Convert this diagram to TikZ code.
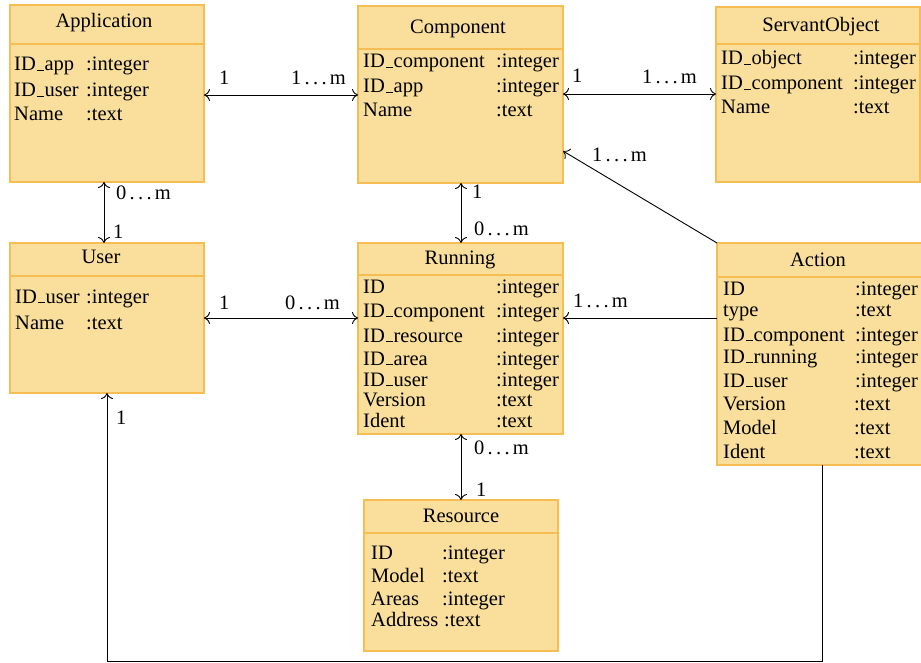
\documentclass[tikz,border=0pt]{standalone}
\usepackage{fontspec}
\setmainfont{Liberation Serif}
\usetikzlibrary{arrows.meta}
\definecolor{boxfill}{RGB}{249,223,155}
\definecolor{boxline}{RGB}{246,190,82}
% low underscore resting on the baseline
\newcommand\usc{\leavevmode\kern.04em\vbox{\hrule width.36em height .06em}\kern.03em}
\newcommand\many[1]{#1\kern.16em.\kern.16em.\kern.16em.\kern.16em m}
\begin{document}
\begin{tikzpicture}[x=1pt,y=-1pt,
  font=\fontsize{20.5}{24}\selectfont,
  classbox/.style={draw=boxline, fill=boxfill, line width=1.2pt, inner sep=0pt, outer sep=0pt, anchor=north west},
  sepline/.style={draw=boxline, line width=1.2pt},
  title/.style={anchor=base, inner sep=0pt},
  field/.style={anchor=base west, inner sep=0pt},
  link/.style={line width=0.9pt, draw=black},
  mult/.style={anchor=base west, inner sep=0pt},
  >={Computer Modern Rightarrow[length=6pt,width=12pt,line width=0.9pt]}]
\useasboundingbox (0,0) rectangle (921,663);

% ---------- Application ----------
\node[classbox, minimum width=194pt, minimum height=177pt] (app) at (10,5) {};
\draw[sepline] (app.west |- 0,44) -- (app.east |- 0,44);
\node[title] (app-t) at (104,28) {Application};
\node[field] (app-1n) at (14,71) {ID\usc app};  \node[field] (app-1t) at (86,71) {:integer};
\node[field] (app-2n) at (14,97) {ID\usc user}; \node[field] (app-2t) at (86,97) {:integer};
\node[field] (app-3n) at (14,121) {Name};       \node[field] (app-3t) at (86,121) {:text};

% ---------- Component ----------
\node[classbox, minimum width=205pt, minimum height=177pt] (comp) at (358,6) {};
\draw[sepline] (comp.west |- 0,49) -- (comp.east |- 0,49);
\node[title] (comp-t) at (458,34) {Component};
\node[field] (comp-1n) at (363,68) {ID\usc component}; \node[field] (comp-1t) at (496,68) {:integer};
\node[field] (comp-2n) at (363,93) {ID\usc app};       \node[field] (comp-2t) at (496,93) {:integer};
\node[field] (comp-3n) at (363,117) {Name};            \node[field] (comp-3t) at (496,117) {:text};

% ---------- ServantObject ----------
\node[classbox, minimum width=204pt, minimum height=175pt] (serv) at (716,7) {};
\draw[sepline] (serv.west |- 0,44) -- (serv.east |- 0,44);
\node[title] (serv-t) at (821,32) {ServantObject};
\node[field] (serv-1n) at (721,65) {ID\usc object};    \node[field] (serv-1t) at (853,65) {:integer};
\node[field] (serv-2n) at (721,90) {ID\usc component}; \node[field] (serv-2t) at (853,90) {:integer};
\node[field] (serv-3n) at (721,114) {Name};            \node[field] (serv-3t) at (853,114) {:text};

% ---------- User ----------
\node[classbox, minimum width=194pt, minimum height=150pt] (user) at (10,243) {};
\draw[sepline] (user.west |- 0,276) -- (user.east |- 0,276);
\node[title] (user-t) at (101,263) {User};
\node[field] (user-1n) at (15,303) {ID\usc user}; \node[field] (user-1t) at (86,303) {:integer};
\node[field] (user-2n) at (15,329) {Name};        \node[field] (user-2t) at (86,329) {:text};

% ---------- Running ----------
\node[classbox, minimum width=205pt, minimum height=191pt] (run) at (358,243) {};
\draw[sepline] (run.west |- 0,275) -- (run.east |- 0,275);
\node[title] (run-t) at (460,264) {Running};
\node[field] (run-1n) at (363,293) {ID};               \node[field] (run-1t) at (496,293) {:integer};
\node[field] (run-2n) at (363,317) {ID\usc component}; \node[field] (run-2t) at (496,317) {:integer};
\node[field] (run-3n) at (363,342) {ID\usc resource};  \node[field] (run-3t) at (496,342) {:integer};
\node[field] (run-4n) at (363,365) {ID\usc area};      \node[field] (run-4t) at (496,365) {:integer};
\node[field] (run-5n) at (363,386) {ID\usc user};      \node[field] (run-5t) at (496,386) {:integer};
\node[field] (run-6n) at (363,406) {Version};          \node[field] (run-6t) at (496,406) {:text};
\node[field] (run-7n) at (363,427) {Ident};            \node[field] (run-7t) at (496,427) {:text};

% ---------- Action ----------
\node[classbox, minimum width=207pt, minimum height=222pt] (act) at (717,243) {};
\draw[sepline] (act.west |- 0,277) -- (act.east |- 0,277);
\node[title] (act-t) at (818,266) {Action};
\node[field] (act-1n) at (723,295) {ID};               \node[field] (act-1t) at (855,295) {:integer};
\node[field] (act-2n) at (723,316) {type};             \node[field] (act-2t) at (855,316) {:text};
\node[field] (act-3n) at (723,341) {ID\usc component}; \node[field] (act-3t) at (855,341) {:integer};
\node[field] (act-4n) at (723,363) {ID\usc running};   \node[field] (act-4t) at (855,363) {:integer};
\node[field] (act-5n) at (723,387) {ID\usc user};      \node[field] (act-5t) at (855,387) {:integer};
\node[field] (act-6n) at (723,410) {Version};          \node[field] (act-6t) at (854,410) {:text};
\node[field] (act-7n) at (723,434) {Model};            \node[field] (act-7t) at (854,434) {:text};
\node[field] (act-8n) at (723,458) {Ident};            \node[field] (act-8t) at (854,458) {:text};

% ---------- Resource ----------
\node[classbox, minimum width=194pt, minimum height=151pt] (res) at (364,500) {};
\draw[sepline] (res.west |- 0,533) -- (res.east |- 0,533);
\node[title] (res-t) at (461,522) {Resource};
\node[field] (res-1n) at (371,559) {ID};      \node[field] (res-1t) at (442,559) {:integer};
\node[field] (res-2n) at (371,582) {Model};   \node[field] (res-2t) at (442,582) {:text};
\node[field] (res-3n) at (371,605) {Areas};   \node[field] (res-3t) at (442,605) {:integer};
\node[field] (res-4n) at (371,626) {Address}; \node[field] (res-4t) at (444,626) {:text};

% ---------- associations ----------
\draw[link,<->] (app.east |- 0,95) -- (comp.west |- 0,95);
\node[mult] (m-ac1) at (219,85) {1};
\node[mult] (m-ac2) at (291,85) {\many{1}};

\draw[link,<->] (comp.east |- 0,94) -- (serv.west |- 0,94);
\node[mult] (m-cs1) at (572,83) {1};
\node[mult] (m-cs2) at (642,84) {\many{1}};

\draw[link,->] (act.north west) -- (comp.east |- 0,151);
\node[mult] (m-ca) at (592,162) {\many{1}};

\draw[link,<->] (app.south -| 104,0) -- (user.north -| 104,0);
\node[mult] (m-au1) at (116,200) {\many{0}};
\node[mult] (m-au2) at (113,239) {1};

\draw[link,<->] (comp.south -| 461,0) -- (run.north -| 461,0);
\node[mult] (m-cr1) at (472,199) {1};
\node[mult] (m-cr2) at (474,236) {\many{0}};

\draw[link,<->] (user.east |- 0,318) -- (run.west |- 0,318);
\node[mult] (m-ur1) at (219,309) {1};
\node[mult] (m-ur2) at (285,309) {\many{0}};

\draw[link,->] (act.west |- 0,318) -- (run.east |- 0,318);
\node[mult] (m-ar) at (573,307) {\many{1}};

\draw[link,<->] (run.south -| 461,0) -- (res.north -| 461,0);
\node[mult] (m-rr1) at (474,454) {\many{0}};
\node[mult] (m-rr2) at (476,496) {1};

\coordinate (bend1) at (822,661);
\coordinate (bend2) at (107,661);
\draw[link,->] (act.south -| bend1) -- (bend1) -- (bend2) -- (user.south -| bend2);
\node[mult] (m-au) at (116,424) {1};
\end{tikzpicture}
\end{document}
